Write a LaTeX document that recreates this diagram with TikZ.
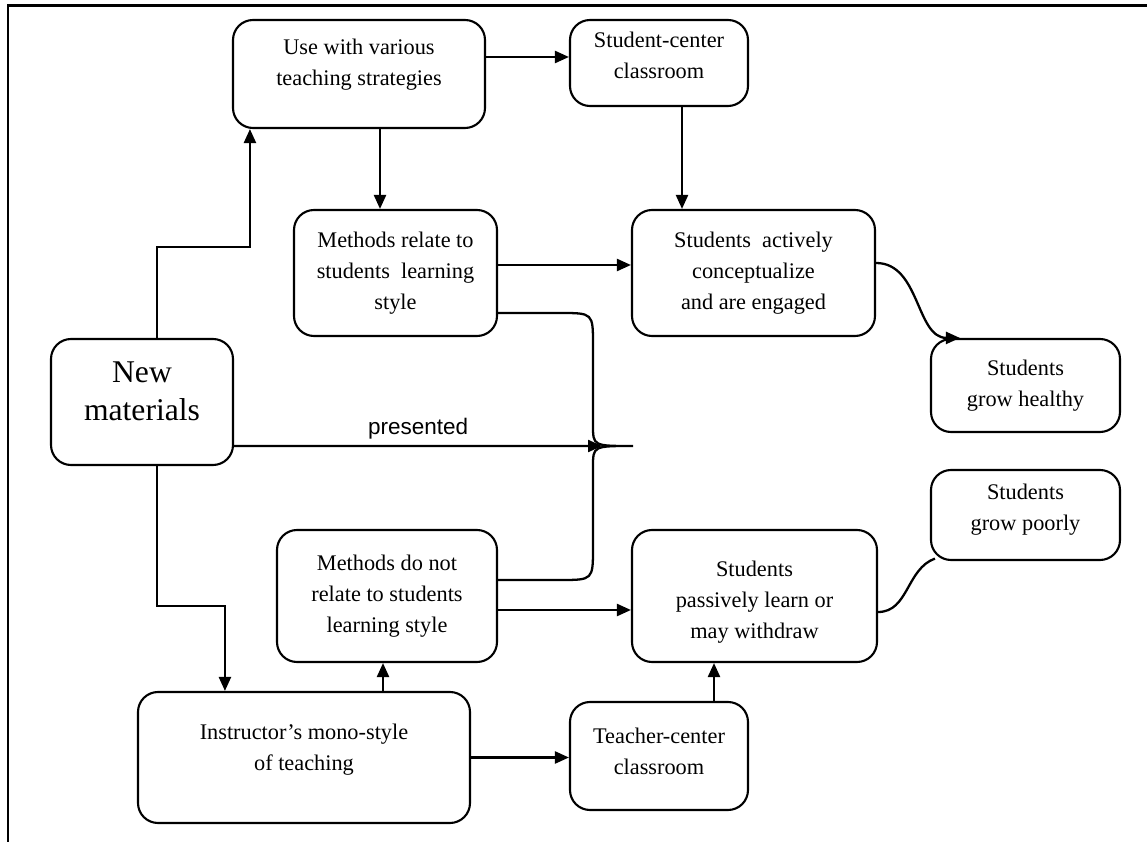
\documentclass[tikz,border=0pt]{standalone}
\usepackage{fontspec}
\setmainfont{Liberation Serif}
\setsansfont{Liberation Sans}
\usepackage{tikz}
\usetikzlibrary{
	arrows.meta,
	positioning,
	calc
}
\tikzset{
  % arrow
	cstra/.style      ={-{Triangle[length=2.8mm,width=2.4mm]}, line width=1.3pt}, % right arrow
	cstline/.style    ={line width=1.3pt},
	cstframe/.style   ={line width=1.7pt},
  % node
	cstbox/.style     ={draw=black,fill=white,text=black,rounded corners=0.4cm,line width=1.2pt,
	                    align=center,font=\fontsize{12.7pt}{17.6pt}\selectfont,inner sep=0pt}
}
\begin{document}
\begin{tikzpicture}
	\useasboundingbox (0,0) rectangle (22.94,-16.84);
	\draw[cstframe] (22.94,-0.12) -- (0.16,-0.12) -- (0.16,-16.84);
	% boxes
	\node[cstbox,minimum width=5.04cm,minimum height=2.16cm] (use) at (7.18,-1.48) {Use with various\\teaching strategies\\[-1.6mm]};
	\node[cstbox,minimum width=3.56cm,minimum height=1.72cm] (stu) at (13.18,-1.26) {Student-center\\classroom\\[-3mm]};
	\node[cstbox,minimum width=4.06cm,minimum height=2.52cm] (relate) at (7.91,-5.46) {Methods relate to\\students \ learning\\style};
	\node[cstbox,minimum width=4.86cm,minimum height=2.52cm] (act) at (15.07,-5.46) {Students \ actively\\conceptualize\\and are engaged};
	\node[cstbox,minimum width=3.78cm,minimum height=1.86cm] (healthy) at (20.51,-7.71) {Students\\grow healthy};
	\node[cstbox,minimum width=3.64cm,minimum height=2.52cm,font=\fontsize{18pt}{21.6pt}\selectfont] (new) at (2.84,-8.04) {New\\materials\\[-3.2mm]};
	\node[cstbox,minimum width=4.4cm,minimum height=2.64cm] (dontrel) at (7.74,-11.92) {Methods do not\\relate to students\\learning style};
	\node[cstbox,minimum width=4.9cm,minimum height=2.64cm] (passive) at (15.09,-11.92) {\rule{0pt}{5.4mm}Students\\passively learn or\\may withdraw};
	\node[cstbox,minimum width=3.78cm,minimum height=1.8cm] (poorly) at (20.51,-10.3) {Students\\grow poorly\\[-3mm]};
	\node[cstbox,minimum width=6.64cm,minimum height=2.62cm] (instr) at (6.08,-15.15) {Instructor's mono-style\\of teaching\\[-2mm]};
	\node[cstbox,minimum width=3.56cm,minimum height=2.16cm] (teach) at (13.18,-15.12) {Teacher-center\\classroom\\[-4.4mm]};
	% brace
	\coordinate (tip) at (12.66,-8.92);
	\draw[cstline] ([yshift=-8mm]relate.east) -- (11.2,-6.26) .. controls (11.86,-6.26) .. (11.86,-6.9)
		-- (11.86,-8.5) .. controls (11.86,-8.92) .. (tip)
		.. controls (11.86,-8.92) .. (11.86,-9.34) -- (11.86,-10.95)
		.. controls (11.86,-11.6) .. (11.2,-11.6) -- ([yshift=3.2mm]dontrel.east);
	% connectors
	\draw[cstra] ([xshift=3mm]new.north) -- ++(0,1.82) -| ([xshift=3.6mm]use.south west);
	\draw[cstra] ([yshift=1.2mm]use.east |- stu.west) -- ([yshift=1.2mm]stu.west);
	\draw[cstra] ([xshift=4.2mm]use.south) -- ([xshift=4.2mm]use.south |- relate.north);
	\draw[cstra] ([xshift=4.6mm]stu.south) -- ([xshift=4.6mm]stu.south |- act.north);
	\draw[cstra] ([yshift=1.6mm]relate.east) -- ([yshift=1.6mm]act.west);
	\draw[cstra] ([yshift=2mm]act.east) to[out=0,in=180] ([xshift=6mm]healthy.north west);
	\draw[cstra] ([yshift=-8.8mm]new.east) -- node[above,font=\sffamily\fontsize{12.8pt}{15pt}\selectfont] {presented} ([xshift=-6.2mm]tip);
	\draw[cstra] ([yshift=-2.8mm]dontrel.east) -- ([yshift=-2.8mm]passive.west);
	\draw[cstline] ([yshift=-3.2mm]passive.east) to[out=0,in=200] ([xshift=1mm,yshift=0.5mm]poorly.south west);
	\draw[cstra] ([xshift=3mm]new.south) -- ++(0,-2.8) -| ([xshift=17.6mm]instr.north west);
	\draw[cstra] ([xshift=15.8mm]instr.north) -- ([xshift=15.8mm]instr.north |- dontrel.south);
	\draw[cstra] (instr.east) -- (instr.east -| teach.west);
	\draw[cstra] ([xshift=11mm]teach.north) -- ([xshift=11mm]teach.north |- passive.south);
\end{tikzpicture}
\end{document}
